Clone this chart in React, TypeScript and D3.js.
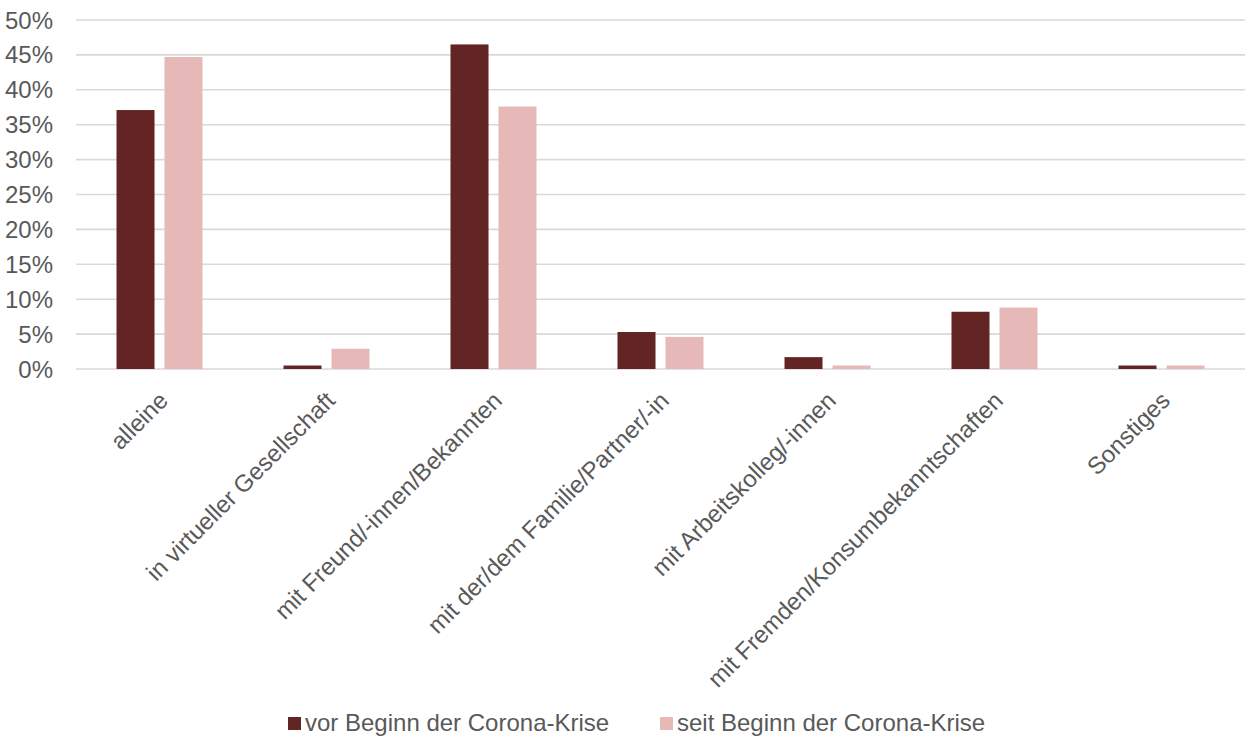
import React from "react";
import * as d3 from "d3";

const categories = [
  "alleine",
  "in virtueller Gesellschaft",
  "mit Freund/-innen/Bekannten",
  "mit der/dem Familie/Partner/-in",
  "mit Arbeitskolleg/-innen",
  "mit Fremden/Konsumbekanntschaften",
  "Sonstiges",
];

const seriesNames = ["vor Beginn der Corona-Krise", "seit Beginn der Corona-Krise"];

const vorBeginn = [0.371, 0.005, 0.465, 0.053, 0.017, 0.082, 0.005];
const seitBeginn = [0.447, 0.029, 0.376, 0.046, 0.005, 0.088, 0.005];

const seriesColors = ["#632523", "#E6B8B7"];

const yTicks = [0, 0.05, 0.1, 0.15, 0.2, 0.25, 0.3, 0.35, 0.4, 0.45, 0.5];

const WIDTH = 1246;
const HEIGHT = 740;
const FONT = "'Liberation Sans', Arial, sans-serif";
const FONT_SIZE = 24;
const TEXT_COLOR = "#595959";

export default function App() {
  const x0 = d3.scaleBand<string>().domain(categories).range([76, 1245]).padding(0);
  const x1 = d3
    .scaleBand<number>()
    .domain([0, 1])
    .range([0, x0.bandwidth()])
    .paddingInner(0.208)
    .paddingOuter(0.844);
  const y = d3.scaleLinear().domain([0, 0.5]).range([369, 20]);
  const fmt = d3.format(".0%");

  const series = [vorBeginn, seitBeginn];

  const legendItems = [
    { x: 288, name: seriesNames[0], color: seriesColors[0] },
    { x: 660, name: seriesNames[1], color: seriesColors[1] },
  ];

  return (
    <svg
      width={WIDTH}
      height={HEIGHT}
      style={{ position: "absolute", left: 0, top: 0, background: "#fff" }}
      fontFamily={FONT}
    >
      {/* gridlines */}
      {yTicks.map((t) => (
        <line
          key={"g" + t}
          x1={76}
          x2={1245}
          y1={y(t)}
          y2={y(t)}
          stroke="#D9D9D9"
          strokeWidth={1.6}
        />
      ))}
      {/* y tick labels */}
      {yTicks.map((t) => (
        <text
          key={"t" + t}
          x={53}
          y={y(t) + 8.5}
          textAnchor="end"
          fontSize={FONT_SIZE}
          fill={TEXT_COLOR}
        >
          {fmt(t)}
        </text>
      ))}
      {/* bars */}
      {categories.map((c, i) =>
        series.map((s, si) => {
          const bx = (x0(c) ?? 0) + (x1(si) ?? 0);
          const top = y(s[i]);
          return (
            <rect
              key={c + si}
              x={bx}
              y={top}
              width={x1.bandwidth()}
              height={y(0) - top}
              fill={seriesColors[si]}
            />
          );
        })
      )}
      {/* category labels */}
      {categories.map((c) => {
        const cx = (x0(c) ?? 0) + x0.bandwidth() / 2;
        return (
          <text
            key={"l" + c}
            transform={`translate(${cx + 10},${402}) rotate(-45)`}
            textAnchor="end"
            fontSize={FONT_SIZE}
            fill={TEXT_COLOR}
          >
            {c}
          </text>
        );
      })}
      {/* legend */}
      {legendItems.map((it) => (
        <g key={it.name}>
          <rect x={it.x} y={717} width={13} height={13} fill={it.color} />
          <text x={it.x + 17} y={731} fontSize={FONT_SIZE} fill={TEXT_COLOR}>
            {it.name}
          </text>
        </g>
      ))}
    </svg>
  );
}
